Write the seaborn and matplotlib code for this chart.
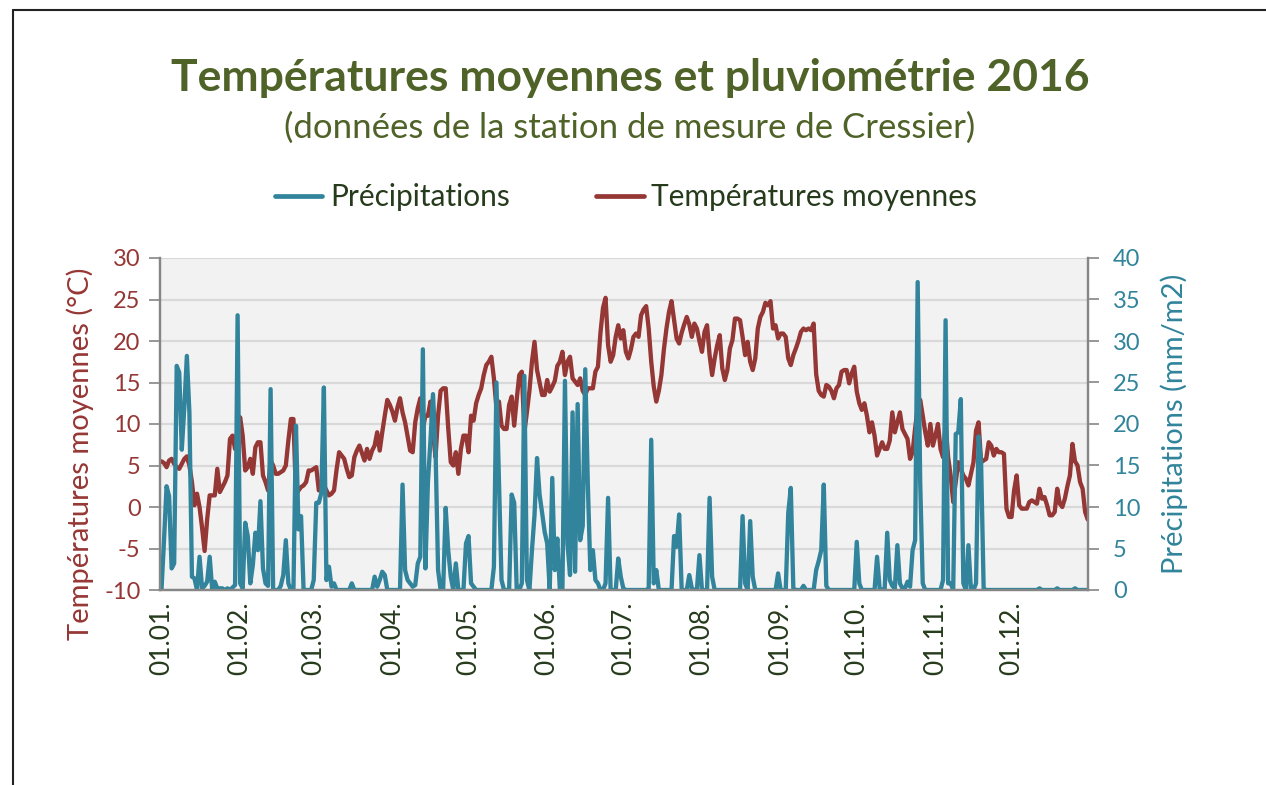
import pandas as pd
import numpy as np
import seaborn as sns
import matplotlib
matplotlib.use('Agg')
import matplotlib.pyplot as plt
import matplotlib.dates as mdates
from matplotlib.lines import Line2D

sns.set_style("white")
plt.rcParams['font.family'] = ['Lato', 'DejaVu Sans']
plt.rcParams['axes.unicode_minus'] = False

# === Data (daily values 2016) ===
temperature = [
    5.5, 5.3, 4.8, 5.6, 5.8, 5.2, 4.8, 4.6, 5.2, 5.8,
    6.1, 5.0, 3.0, 0.2, 1.6, 0.0, -2.5, -5.3, -1.5, 1.4,
    1.4, 1.4, 4.6, 1.8, 2.4, 3.0, 3.8, 8.2, 8.6, 7.0,
    9.5, 10.8, 8.6, 4.4, 4.8, 5.8, 4.0, 7.2, 7.8, 7.8,
    3.8, 3.0, 2.0, 5.6, 5.0, 4.0, 4.0, 4.2, 4.4, 5.0,
    8.0, 10.6, 10.6, 1.4, 2.0, 2.4, 2.6, 3.0, 4.4, 4.4,
    4.6, 4.8, 2.0, 2.3, 2.6, 2.0, 1.4, 1.6, 2.0, 4.5,
    6.6, 6.2, 5.8, 4.6, 3.6, 3.8, 6.0, 6.8, 7.4, 6.5,
    5.6, 7.0, 5.8, 6.8, 7.4, 9.0, 6.8, 9.0, 11.0, 12.9,
    12.3, 11.5, 10.4, 12.0, 13.1, 11.4, 10.2, 8.5, 6.8, 6.6,
    10.2, 11.9, 13.1, 9.4, 11.0, 11.0, 12.7, 9.0, 6.0, 11.0,
    14.0, 14.3, 14.3, 9.5, 5.4, 5.0, 6.6, 4.0, 7.0, 8.6,
    8.6, 6.6, 11.0, 10.4, 12.5, 13.5, 14.3, 15.9, 17.1, 17.5,
    18.1, 15.5, 11.9, 12.7, 9.8, 9.4, 9.4, 12.3, 13.3, 9.8,
    13.0, 15.9, 16.3, 9.0, 11.4, 14.0, 17.5, 19.9, 16.5, 15.0,
    13.5, 13.5, 15.3, 13.9, 14.5, 15.2, 17.0, 17.5, 18.7, 15.9,
    17.5, 18.1, 15.5, 15.1, 14.7, 15.5, 14.0, 13.5, 14.3, 14.3,
    14.3, 16.3, 16.9, 21.0, 24.0, 25.2, 19.5, 17.5, 18.3, 20.5,
    21.9, 20.3, 21.3, 18.7, 17.9, 19.0, 20.5, 20.9, 20.5, 23.1,
    23.8, 24.2, 21.5, 17.5, 14.5, 12.7, 14.0, 15.9, 19.0, 21.5,
    23.5, 24.8, 22.5, 20.3, 19.7, 21.0, 22.0, 22.9, 22.0, 20.5,
    22.1, 21.5, 20.0, 18.7, 21.1, 21.9, 18.3, 15.9, 17.9, 19.5,
    20.7, 16.7, 15.3, 16.5, 19.1, 20.1, 22.7, 22.7, 22.5, 20.5,
    18.3, 19.9, 17.5, 16.5, 17.9, 21.5, 22.9, 23.5, 24.6, 24.3,
    24.8, 21.5, 21.9, 20.3, 20.9, 20.9, 20.5, 17.9, 17.1, 18.3,
    19.1, 20.0, 21.1, 21.5, 21.3, 21.5, 21.3, 22.1, 16.0, 14.0,
    13.5, 13.3, 14.7, 14.5, 14.0, 13.1, 14.3, 14.7, 16.3, 16.5,
    16.5, 14.9, 16.1, 16.9, 13.9, 12.5, 11.7, 12.5, 11.0, 9.0,
    10.2, 8.6, 6.2, 7.0, 7.8, 7.0, 7.0, 8.0, 11.4, 9.0,
    10.2, 11.4, 9.4, 8.8, 8.2, 5.8, 6.6, 9.5, 11.9, 12.9,
    11.0, 9.0, 7.4, 10.0, 7.4, 8.6, 10.0, 7.0, 6.0, 10.0,
    6.0, 3.8, 0.6, 3.0, 5.4, 4.6, 3.8, 3.4, 2.6, 4.0,
    5.4, 9.2, 10.2, 5.4, 5.6, 5.8, 7.8, 7.4, 6.2, 7.0,
    6.6, 6.6, 6.4, -0.2, -1.2, -1.2, 2.0, 3.8, 0.2, -0.2,
    -0.2, -0.2, 0.6, 0.8, 0.6, 0.4, 2.2, 1.0, 1.2, 0.2,
    -1.0, -1.0, -0.6, 2.2, 0.4, 0.0, 1.0, 2.5, 3.8, 7.6,
    5.5, 5.0, 3.0, 2.2, -0.6, -1.5,
]

precipitation = [
    0, 6, 12.5, 11.3, 2.6, 3.2, 27, 26.2, 16.9, 22,
    28.2, 21.4, 1.6, 1.4, 0, 4, 0.2, 0.5, 1, 4,
    0, 1, 0.2, 0.2, 0.2, 0, 0.2, 0, 0.3, 0.6,
    33.1, 0.8, 0.2, 8.1, 6.5, 0.8, 3, 6.9, 4.8, 10.7,
    2.6, 0.8, 0.5, 24.2, 0, 0, 0, 0.5, 1.8, 6,
    0.8, 0, 0, 19.8, 7.3, 8.9, 0, 0, 0, 0,
    1.2, 10.5, 10.5, 11.7, 24.4, 1.2, 2.8, 0.4, 0.8, 0,
    0, 0, 0, 0, 0, 0.8, 0, 0, 0, 0,
    0, 0, 0, 0, 1.6, 0.4, 1.2, 2.2, 1.8, 0,
    0, 0, 0, 0, 0, 12.7, 2.4, 1.2, 0.8, 0.4,
    0.6, 3.2, 4, 29, 2.6, 13, 18, 23.6, 17, 2.4,
    0, 0, 9.9, 4.8, 1.6, 0, 3.2, 0, 0, 0,
    5.6, 6.5, 0.8, 0.4, 0, 0, 0, 0, 0, 0,
    0, 2.8, 25, 12.9, 1.2, 0, 0, 0, 11.5, 10.5,
    0, 0, 0.8, 25.8, 1.2, 0, 4.8, 9, 15.9, 11.5,
    9.3, 7, 5.6, 0, 13.5, 2.4, 6.2, 0, 0, 25.2,
    5.6, 1.8, 21.4, 2.2, 22.4, 6, 7.7, 26.6, 12.9, 2.4,
    4.8, 1.2, 0.8, 0, 0, 0.8, 11.1, 0, 0, 0,
    3.8, 1.6, 0.2, 0, 0, 0, 0, 0, 0, 0,
    0, 0, 0.2, 18.1, 0.8, 2.4, 0, 0, 0, 0,
    0, 0, 6.5, 5.2, 9.1, 0, 0, 0, 1.8, 0.2,
    0, 0, 4.2, 0, 0, 0, 11.1, 1.6, 0, 0,
    0, 0, 0, 0, 0, 0, 0, 0, 0, 8.9,
    0.8, 0, 8.3, 1.6, 0, 0, 0, 0, 0, 0,
    0, 0, 0, 2, 0, 0, 0, 9.3, 12.3, 0.2,
    0, 0, 0, 0.5, 0, 0, 0, 0, 2.4, 3.5,
    4.8, 12.7, 0.5, 0, 0, 0, 0, 0, 0, 0,
    0, 0, 0, 0, 5.8, 0.8, 0, 0, 0, 0,
    0, 0, 4, 0.2, 0, 0.2, 6.9, 1.2, 0.5, 0.2,
    5.4, 0.8, 0.2, 0.2, 1, 0.4, 4.8, 6, 37.1, 12.9,
    0.8, 0, 0, 0, 0, 0, 0, 0, 1.2, 32.5,
    0.8, 0.8, 0, 18.8, 19, 23, 0.8, 0, 5.4, 0,
    0, 0.8, 18.5, 15.3, 0.2, 0, 0, 0, 0, 0,
    0, 0, 0, 0, 0, 0, 0, 0, 0, 0,
    0, 0, 0, 0, 0, 0, 0.2, 0, 0, 0,
    0, 0, 0, 0.2, 0, 0, 0, 0, 0, 0,
    0.2, 0, 0, 0, 0, 0,
]

temp_ticks = [-10, -5, 0, 5, 10, 15, 20, 25, 30]
precip_ticks = [0, 5, 10, 15, 20, 25, 30, 35, 40]

df = pd.DataFrame({
    'date': pd.date_range('2016-01-01', periods=len(temperature), freq='D'),
    'temp': temperature,
    'precip': precipitation,
})

RED = '#953735'
BLUE = '#31849B'
GREEN = '#4F6228'
DARK = '#263A1C'
GREY = '#868686'

W, H = 1266, 785
fig = plt.figure(figsize=(W / 100, H / 100), dpi=100)
ax = fig.add_axes([160 / W, 1 - 590 / H, 928 / W, 332 / H])
ax.set_facecolor('#F2F2F2')

sns.lineplot(data=df, x='date', y='temp', ax=ax, color=RED, lw=3.1, zorder=3)
ax.set_ylim(-10, 30)
ax.set_yticks(temp_ticks)
ax.grid(axis='y', color='#D9D9D9', lw=1.6)
ax.set_axisbelow(True)

ax2 = ax.twinx()
sns.lineplot(data=df, x='date', y='precip', ax=ax2, color=BLUE, lw=3.1)
ax2.set_ylim(0, 40)
ax2.set_yticks(precip_ticks)

ax.set_xlim(df['date'].iloc[0] - pd.Timedelta(hours=14), df['date'].iloc[-1] + pd.Timedelta(hours=3))
ax.xaxis.set_major_locator(mdates.MonthLocator())
ax.xaxis.set_major_formatter(mdates.DateFormatter('%d.%m.'))
ax.tick_params(axis='x', labelrotation=90, labelsize=19, labelcolor=DARK, length=0, pad=8)

ax.tick_params(axis='y', labelsize=17, labelcolor=RED, color=GREY, length=8, width=1.2, direction='out', left=True, pad=6)
ax2.tick_params(axis='y', labelsize=17, labelcolor=BLUE, color=GREY, length=8, width=1.2, direction='out', right=True, pad=10)

for a in (ax, ax2):
    a.spines['top'].set_visible(False)
    for s in ('left', 'right', 'bottom'):
        a.spines[s].set_color(GREY)
        a.spines[s].set_linewidth(1.6)

ax.set_xlabel('')
ax.set_ylabel('Températures moyennes (°C)', fontsize=21, color=RED)
ax.yaxis.set_label_coords(-66 / 928, 0.41)
ax2.set_ylabel('Précipitations (mm/m2)', fontsize=21, color=BLUE, labelpad=14)

fig.text(630 / W, 1 - 78 / H, 'Températures moyennes et pluviométrie 2016',
         ha='center', va='center', fontsize=32, fontweight='bold', color=GREEN)
fig.text(630 / W, 1 - 128 / H, '(données de la station de mesure de Cressier)',
         ha='center', va='center', fontsize=25, color=GREEN)

handles = [Line2D([0], [0], color=BLUE, lw=3.4), Line2D([0], [0], color=RED, lw=3.4)]
fig.legend(handles, ['Précipitations', 'Températures moyennes'], loc='center',
           bbox_to_anchor=(626 / W, 1 - 197 / H), ncol=2, frameon=False,
           fontsize=21.5, labelcolor=DARK, handlelength=1.6, handletextpad=0.25,
           columnspacing=2.9)

# outer frame of the chart (top and left edges are visible)
fig.add_artist(Line2D([13 / W, 13 / W], [0, 1 - 10 / H], color='#222222', lw=1.5))
fig.add_artist(Line2D([13 / W, 1], [1 - 10 / H, 1 - 10 / H], color='#222222', lw=1.5))

fig.savefig('out.png', dpi=100)
